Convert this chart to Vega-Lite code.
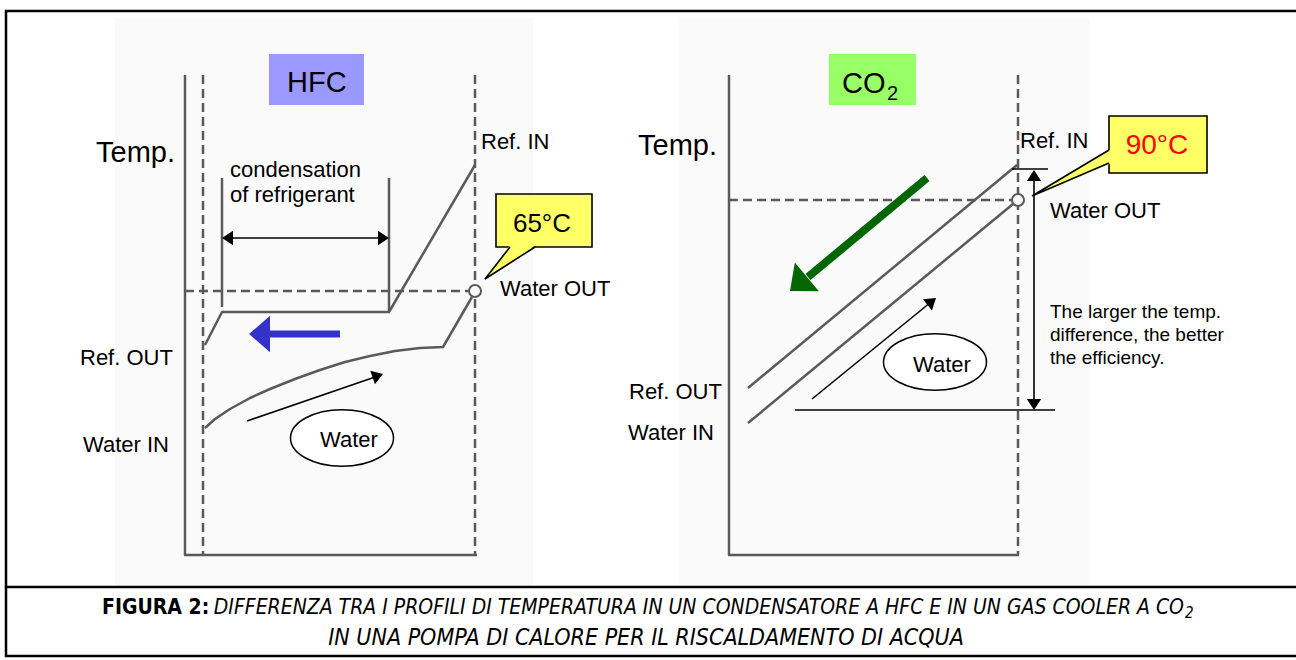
{
  "$schema": "https://vega.github.io/schema/vega-lite/v6.json",
  "width": 1296,
  "height": 660,
  "autosize": "none",
  "padding": 0,
  "background": "white",
  "config": {"view": {"stroke": null}},
  "datasets": {
    "panels": [
      {"x": 115, "x2": 533, "y": 18, "y2": 585},
      {"x": 679, "x2": 1090, "y": 18, "y2": 585}
    ],
    "labelHFC": [{"x": 269, "x2": 364, "y": 54, "y2": 105}],
    "labelCO2": [{"x": 829, "x2": 916, "y": 54, "y2": 105}],
    "frame": [
      {"id": "f", "o": 0, "x": 1296, "y": 11},
      {"id": "f", "o": 1, "x": 6, "y": 11},
      {"id": "f", "o": 2, "x": 6, "y": 656},
      {"id": "f", "o": 3, "x": 1296, "y": 656},
      {"id": "s", "o": 0, "x": 6, "y": 587},
      {"id": "s", "o": 1, "x": 1296, "y": 587}
    ],
    "dashed": [
      {"id": "d1", "o": 0, "x": 203, "y": 75}, {"id": "d1", "o": 1, "x": 203, "y": 555},
      {"id": "d2", "o": 0, "x": 475, "y": 75}, {"id": "d2", "o": 1, "x": 475, "y": 555},
      {"id": "d3", "o": 0, "x": 185, "y": 291}, {"id": "d3", "o": 1, "x": 475, "y": 291},
      {"id": "d4", "o": 0, "x": 1018, "y": 75}, {"id": "d4", "o": 1, "x": 1018, "y": 555},
      {"id": "d5", "o": 0, "x": 729, "y": 200}, {"id": "d5", "o": 1, "x": 1018, "y": 200}
    ],
    "solid": [
      {"id": "l1", "o": 0, "x": 185, "y": 75}, {"id": "l1", "o": 1, "x": 185, "y": 555}, {"id": "l1", "o": 2, "x": 477, "y": 555},
      {"id": "l2", "o": 0, "x": 222, "y": 178}, {"id": "l2", "o": 1, "x": 222, "y": 307},
      {"id": "l3", "o": 0, "x": 389, "y": 178}, {"id": "l3", "o": 1, "x": 389, "y": 312},
      {"id": "l4", "o": 0, "x": 205, "y": 345}, {"id": "l4", "o": 1, "x": 222, "y": 312}, {"id": "l4", "o": 2, "x": 389, "y": 312}, {"id": "l4", "o": 3, "x": 475, "y": 165},
      {"id": "l5", "o": 0, "x": 205, "y": 428}, {"id": "l5", "o": 1, "x": 215, "y": 419}, {"id": "l5", "o": 2, "x": 230, "y": 409}, {"id": "l5", "o": 3, "x": 250, "y": 398}, {"id": "l5", "o": 4, "x": 270, "y": 389}, {"id": "l5", "o": 5, "x": 295, "y": 379}, {"id": "l5", "o": 6, "x": 320, "y": 370}, {"id": "l5", "o": 7, "x": 345, "y": 362}, {"id": "l5", "o": 8, "x": 370, "y": 356}, {"id": "l5", "o": 9, "x": 395, "y": 351}, {"id": "l5", "o": 10, "x": 420, "y": 348}, {"id": "l5", "o": 11, "x": 443, "y": 347}, {"id": "l5", "o": 12, "x": 472, "y": 297},
      {"id": "l6", "o": 0, "x": 729, "y": 75}, {"id": "l6", "o": 1, "x": 729, "y": 555}, {"id": "l6", "o": 2, "x": 1019, "y": 555},
      {"id": "l7", "o": 0, "x": 748, "y": 388}, {"id": "l7", "o": 1, "x": 1017, "y": 165},
      {"id": "l8", "o": 0, "x": 748, "y": 423}, {"id": "l8", "o": 1, "x": 1013, "y": 204}
    ],
    "black": [
      {"id": "b1", "o": 0, "x": 226, "y": 238}, {"id": "b1", "o": 1, "x": 385, "y": 238},
      {"id": "b2", "o": 0, "x": 247, "y": 421}, {"id": "b2", "o": 1, "x": 378, "y": 376},
      {"id": "b3", "o": 0, "x": 1012, "y": 169}, {"id": "b3", "o": 1, "x": 1048, "y": 169},
      {"id": "b4", "o": 0, "x": 1034, "y": 176}, {"id": "b4", "o": 1, "x": 1034, "y": 404},
      {"id": "b5", "o": 0, "x": 795, "y": 410}, {"id": "b5", "o": 1, "x": 1055, "y": 410},
      {"id": "b6", "o": 0, "x": 812, "y": 399}, {"id": "b6", "o": 1, "x": 931, "y": 302}
    ],
    "heads": [
      {"x": 222, "y": 238, "a": 270},
      {"x": 389, "y": 238, "a": 90},
      {"x": 383, "y": 374, "a": 71},
      {"x": 1034, "y": 170, "a": 0},
      {"x": 1034, "y": 410, "a": 180},
      {"x": 936, "y": 298, "a": 51}
    ],
    "blueShaft": [
      {"id": "bl", "o": 0, "x": 268, "y": 334}, {"id": "bl", "o": 1, "x": 340, "y": 334}
    ],
    "blueHead": [{"x": 249, "y": 334, "a": 270}],
    "greenShaft": [
      {"id": "gr", "o": 0, "x": 927, "y": 178}, {"id": "gr", "o": 1, "x": 808, "y": 277}
    ],
    "greenHead": [{"x": 790, "y": 291, "a": 230}],
    "circles": [{"x": 475, "y": 291}, {"x": 1018, "y": 200}],
    "ellipses": [{"x": 342, "y": 438}, {"x": 935, "y": 362}],
    "boxes": [
      {"x": 496, "x2": 592, "y": 194, "y2": 247},
      {"x": 1109, "x2": 1207, "y": 116, "y2": 173}
    ],
    "pointerFill": [
      {"id": "p1", "x": 485, "y": 279, "y2": 279},
      {"id": "p1", "x": 510, "y": 245.5, "y2": 263},
      {"id": "p1", "x": 535, "y": 245.5, "y2": 245.5},
      {"id": "p2", "x": 1032, "y": 196, "y2": 196},
      {"id": "p2", "x": 1110.5, "y": 149.5, "y2": 163.5}
    ],
    "pointerLines": [
      {"id": "q1", "o": 0, "x": 510, "y": 247}, {"id": "q1", "o": 1, "x": 485, "y": 279}, {"id": "q1", "o": 2, "x": 535, "y": 247},
      {"id": "q2", "o": 0, "x": 1109, "y": 150}, {"id": "q2", "o": 1, "x": 1032, "y": 196}, {"id": "q2", "o": 2, "x": 1109, "y": 163}
    ],
    "t29": [
      {"t": "Temp.", "x": 96, "y": 162},
      {"t": "Temp.", "x": 638, "y": 155},
      {"t": "HFC", "x": 287, "y": 92},
      {"t": "CO", "x": 842, "y": 93}
    ],
    "t22": [
      {"t": "Ref. IN", "x": 481, "y": 149},
      {"t": "Ref. IN", "x": 1020, "y": 148},
      {"t": "condensation", "x": 230, "y": 177},
      {"t": "of refrigerant", "x": 230, "y": 202},
      {"t": "Water OUT", "x": 500, "y": 296},
      {"t": "Water OUT", "x": 1050, "y": 218},
      {"t": "Ref. OUT", "x": 80, "y": 365},
      {"t": "Water IN", "x": 83, "y": 452},
      {"t": "Ref. OUT", "x": 629, "y": 399},
      {"t": "Water IN", "x": 628, "y": 440},
      {"t": "Water", "x": 320, "y": 447},
      {"t": "Water", "x": 913, "y": 372}
    ],
    "sub": [{"t": "2", "x": 887, "y": 100}],
    "t19": [
      {"t": "The larger the temp.", "x": 1050, "y": 318},
      {"t": "difference, the better", "x": 1050, "y": 341},
      {"t": "the efficiency.", "x": 1050, "y": 364}
    ],
    "c65": [{"t": "65°C", "x": 542, "y": 232}],
    "c90": [{"t": "90°C", "x": 1157, "y": 154}],
    "capBold": [{"t": "FIGURA 2:", "x": 102, "y": 614}],
    "capItal": [{"t": "DIFFERENZA TRA I PROFILI DI TEMPERATURA IN UN CONDENSATORE A HFC E IN UN GAS COOLER A CO", "x": 1184, "y": 614}],
    "capSub": [{"t": "2", "x": 1185, "y": 618}],
    "capLine2": [{"t": "IN UNA POMPA DI CALORE PER IL RISCALDAMENTO DI ACQUA", "x": 646, "y": 645}]
  },
  "encoding": {
    "x": {"field": "x", "type": "quantitative", "scale": {"domain": [0, 1296], "nice": false, "zero": false}, "axis": null},
    "y": {"field": "y", "type": "quantitative", "scale": {"domain": [0, 660], "nice": false, "zero": false, "reverse": true}, "axis": null}
  },
  "layer": [
    {"data": {"name": "panels"}, "mark": {"type": "rect", "fill": "#fafafa"},
     "encoding": {"x2": {"field": "x2"}, "y2": {"field": "y2"}}},
    {"data": {"name": "labelHFC"}, "mark": {"type": "rect", "fill": "#9999ff"},
     "encoding": {"x2": {"field": "x2"}, "y2": {"field": "y2"}}},
    {"data": {"name": "labelCO2"}, "mark": {"type": "rect", "fill": "#99ff66"},
     "encoding": {"x2": {"field": "x2"}, "y2": {"field": "y2"}}},
    {"data": {"name": "frame"}, "mark": {"type": "line", "color": "black", "strokeWidth": 2.5, "strokeJoin": "miter", "strokeCap": "square"},
     "encoding": {"detail": {"field": "id"}, "order": {"field": "o"}}},
    {"data": {"name": "dashed"}, "mark": {"type": "line", "color": "#5a5a5a", "strokeWidth": 2.5, "strokeDash": [9, 5]},
     "encoding": {"detail": {"field": "id"}, "order": {"field": "o"}}},
    {"data": {"name": "solid"}, "mark": {"type": "line", "color": "#5a5a5a", "strokeWidth": 2.5, "strokeJoin": "round"},
     "encoding": {"detail": {"field": "id"}, "order": {"field": "o"}}},
    {"data": {"name": "circles"}, "mark": {"type": "point", "shape": "circle", "size": 144, "filled": true, "fill": "#fafafa", "stroke": "#5a5a5a", "strokeWidth": 2, "opacity": 1}},
    {"data": {"name": "black"}, "mark": {"type": "line", "color": "black", "strokeWidth": 1.6},
     "encoding": {"detail": {"field": "id"}, "order": {"field": "o"}}},
    {"data": {"name": "heads"}, "mark": {"type": "point", "shape": "M0,0L-0.65,1L0.65,1Z", "size": 484, "filled": true, "color": "black", "opacity": 1},
     "encoding": {"angle": {"field": "a", "type": "quantitative", "scale": null}}},
    {"data": {"name": "blueShaft"}, "mark": {"type": "line", "color": "#3333cc", "strokeWidth": 7, "strokeCap": "butt"},
     "encoding": {"detail": {"field": "id"}, "order": {"field": "o"}}},
    {"data": {"name": "blueHead"}, "mark": {"type": "point", "shape": "M0,0L-0.87,1L0.87,1Z", "size": 1764, "filled": true, "color": "#3333cc", "opacity": 1},
     "encoding": {"angle": {"field": "a", "type": "quantitative", "scale": null}}},
    {"data": {"name": "greenShaft"}, "mark": {"type": "line", "color": "#006600", "strokeWidth": 8, "strokeCap": "butt"},
     "encoding": {"detail": {"field": "id"}, "order": {"field": "o"}}},
    {"data": {"name": "greenHead"}, "mark": {"type": "point", "shape": "M0,0L-0.85,1L0.85,1Z", "size": 1936, "filled": true, "color": "#006600", "opacity": 1},
     "encoding": {"angle": {"field": "a", "type": "quantitative", "scale": null}}},
    {"data": {"name": "ellipses"}, "mark": {"type": "point", "shape": "M-1,0A1,0.55,0,1,1,1,0A1,0.55,0,1,1,-1,0Z", "size": 10609, "filled": true, "fill": "white", "stroke": "black", "strokeWidth": 1.5, "opacity": 1}},
    {"data": {"name": "boxes"}, "mark": {"type": "rect", "fill": "#ffff66", "stroke": "black", "strokeWidth": 1.6},
     "encoding": {"x2": {"field": "x2"}, "y2": {"field": "y2"}}},
    {"data": {"name": "pointerFill"}, "mark": {"type": "area", "color": "#ffff66", "opacity": 1},
     "encoding": {"y2": {"field": "y2"}, "detail": {"field": "id"}}},
    {"data": {"name": "pointerLines"}, "mark": {"type": "line", "color": "black", "strokeWidth": 1.6, "strokeJoin": "miter"},
     "encoding": {"detail": {"field": "id"}, "order": {"field": "o"}}},
    {"data": {"name": "t29"}, "mark": {"type": "text", "font": "Liberation Sans", "fontSize": 29, "align": "left", "baseline": "alphabetic", "color": "black"},
     "encoding": {"text": {"field": "t"}}},
    {"data": {"name": "sub"}, "mark": {"type": "text", "font": "Liberation Sans", "fontSize": 20, "align": "left", "baseline": "alphabetic", "color": "black"},
     "encoding": {"text": {"field": "t"}}},
    {"data": {"name": "t22"}, "mark": {"type": "text", "font": "Liberation Sans", "fontSize": 22, "align": "left", "baseline": "alphabetic", "color": "black"},
     "encoding": {"text": {"field": "t"}}},
    {"data": {"name": "t19"}, "mark": {"type": "text", "font": "Liberation Sans", "fontSize": 19, "align": "left", "baseline": "alphabetic", "color": "black"},
     "encoding": {"text": {"field": "t"}}},
    {"data": {"name": "c65"}, "mark": {"type": "text", "font": "Liberation Sans", "fontSize": 26, "align": "center", "baseline": "alphabetic", "color": "black"},
     "encoding": {"text": {"field": "t"}}},
    {"data": {"name": "c90"}, "mark": {"type": "text", "font": "Liberation Sans", "fontSize": 28, "align": "center", "baseline": "alphabetic", "color": "#ff0000"},
     "encoding": {"text": {"field": "t"}}},
    {"data": {"name": "capBold"}, "mark": {"type": "text", "font": "Liberation Sans Narrow, DejaVu Sans Condensed, sans-serif", "fontSize": 21, "fontWeight": "bold", "align": "left", "baseline": "alphabetic", "color": "black"},
     "encoding": {"text": {"field": "t"}}},
    {"data": {"name": "capItal"}, "mark": {"type": "text", "font": "Liberation Sans Narrow, DejaVu Sans Condensed, sans-serif", "fontSize": 21, "fontStyle": "italic", "align": "right", "baseline": "alphabetic", "color": "black"},
     "encoding": {"text": {"field": "t"}}},
    {"data": {"name": "capSub"}, "mark": {"type": "text", "font": "Liberation Sans Narrow, DejaVu Sans Condensed, sans-serif", "fontSize": 15, "fontStyle": "italic", "align": "left", "baseline": "alphabetic", "color": "black"},
     "encoding": {"text": {"field": "t"}}},
    {"data": {"name": "capLine2"}, "mark": {"type": "text", "font": "Liberation Sans Narrow, DejaVu Sans Condensed, sans-serif", "fontSize": 23, "fontStyle": "italic", "align": "center", "baseline": "alphabetic", "color": "black"},
     "encoding": {"text": {"field": "t"}}}
  ]
}
